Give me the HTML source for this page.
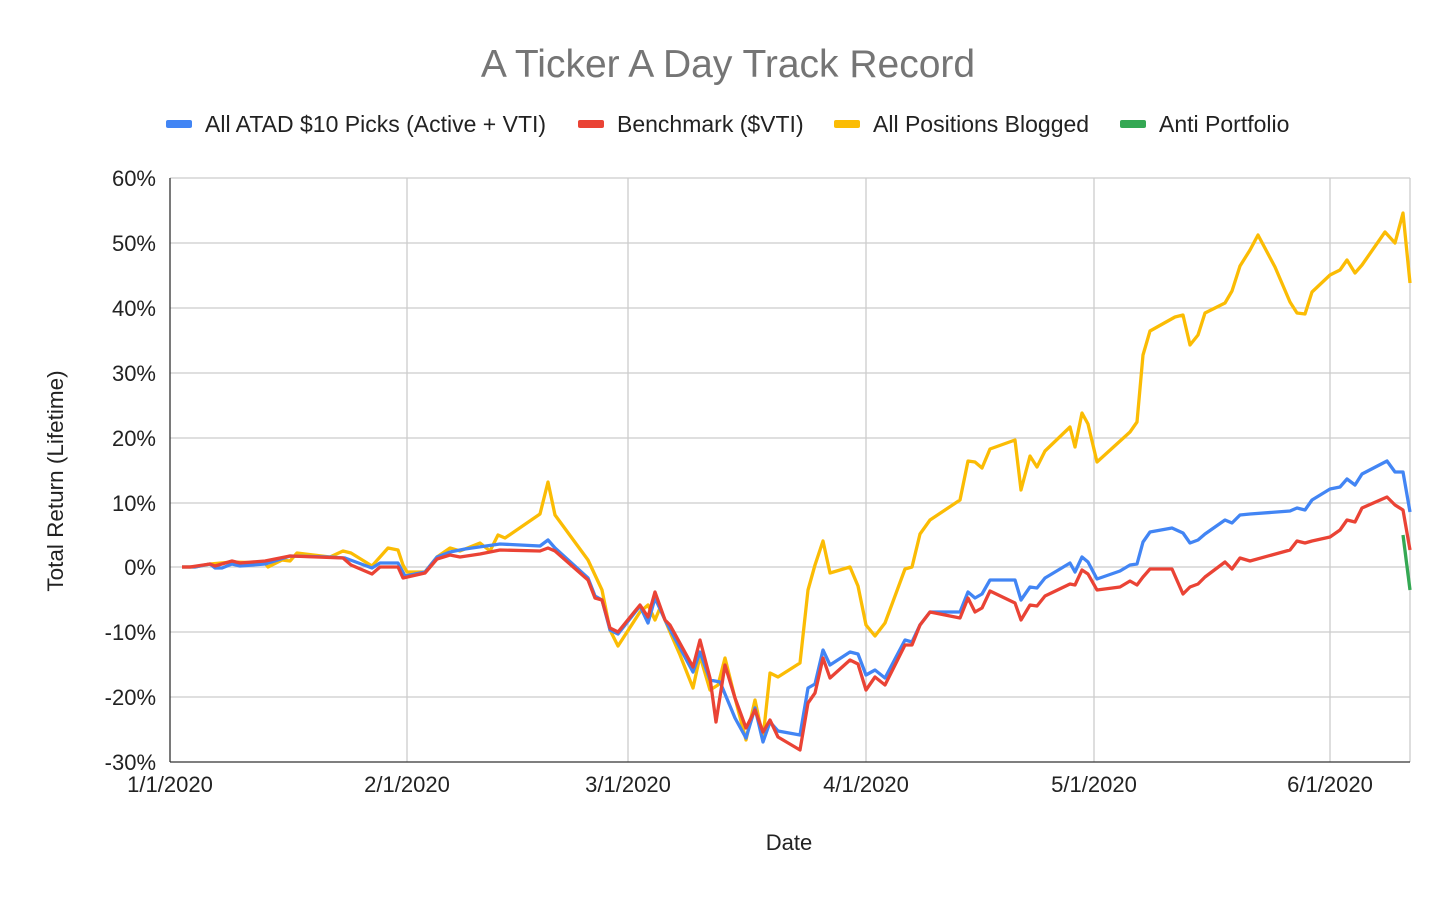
<!DOCTYPE html>
<html><head><meta charset="utf-8"><style>
html,body{margin:0;padding:0;background:#fff;}
svg{display:block;font-family:"Liberation Sans",Arial,sans-serif;}
</style></head><body>
<svg width="1456" height="899" viewBox="0 0 1456 899" xmlns="http://www.w3.org/2000/svg">
<rect width="1456" height="899" fill="#fff"/>
<text x="728" y="77" text-anchor="middle" font-size="39" fill="#757575">A Ticker A Day Track Record</text>
<g font-size="23" fill="#222">
<rect x="166" y="120" width="26" height="8" rx="2" fill="#4285f4"/><text x="205" y="132">All ATAD $10 Picks (Active + VTI)</text>
<rect x="578" y="120" width="26" height="8" rx="2" fill="#ea4335"/><text x="617" y="132">Benchmark ($VTI)</text>
<rect x="834" y="120" width="26" height="8" rx="2" fill="#fbbc04"/><text x="873" y="132">All Positions Blogged</text>
<rect x="1120" y="120" width="26" height="8" rx="2" fill="#34a853"/><text x="1159" y="132">Anti Portfolio</text>
</g>
<g stroke="#cccccc" stroke-width="1.3">
<line x1="170" y1="178" x2="1410" y2="178"/><line x1="170" y1="243" x2="1410" y2="243"/><line x1="170" y1="308" x2="1410" y2="308"/><line x1="170" y1="373" x2="1410" y2="373"/><line x1="170" y1="438" x2="1410" y2="438"/><line x1="170" y1="503" x2="1410" y2="503"/><line x1="170" y1="567" x2="1410" y2="567"/><line x1="170" y1="632" x2="1410" y2="632"/><line x1="170" y1="697" x2="1410" y2="697"/>
<line x1="407" y1="178" x2="407" y2="762"/><line x1="628" y1="178" x2="628" y2="762"/><line x1="866" y1="178" x2="866" y2="762"/><line x1="1094" y1="178" x2="1094" y2="762"/><line x1="1330" y1="178" x2="1330" y2="762"/><line x1="1410" y1="178" x2="1410" y2="762"/>
</g>
<line x1="170" y1="178" x2="170" y2="762" stroke="#333" stroke-width="1.3"/>
<line x1="170" y1="762" x2="1410" y2="762" stroke="#333" stroke-width="1.3"/>
<g font-size="22" fill="#222" text-anchor="end">
<text x="156" y="186">60%</text><text x="156" y="251">50%</text><text x="156" y="316">40%</text><text x="156" y="381">30%</text><text x="156" y="446">20%</text><text x="156" y="511">10%</text><text x="156" y="575">0%</text><text x="156" y="640">-10%</text><text x="156" y="705">-20%</text><text x="156" y="770">-30%</text>
</g>
<g font-size="22" fill="#222" text-anchor="middle">
<text x="170" y="792">1/1/2020</text><text x="407" y="792">2/1/2020</text><text x="628" y="792">3/1/2020</text><text x="866" y="792">4/1/2020</text><text x="1094" y="792">5/1/2020</text><text x="1330" y="792">6/1/2020</text>
<text x="789" y="850">Date</text>
</g>
<text transform="translate(63,481) rotate(-90)" font-size="22.5" fill="#222" text-anchor="middle">Total Return (Lifetime)</text>
<g fill="none" stroke-width="3.3" stroke-linejoin="round">
<polyline stroke="#fbbc04" points="182,567 195,567 210,564 232,562 265,563 268,567 282,560 290,561 297,553 330,557 343,551 351,553 372,566 388,548 398,550 403,565 407,572 425,572 437,557 450,548 460,551 480,543 490,551 498,535 505,538 540,514 548,482 555,515 588,560 602,590 610,630 618,646 640,612 648,605 655,620 660,608 670,632 680,655 693,688 700,656 710,690 718,685 725,658 735,698 746,740 755,700 763,738 770,673 778,677 800,663 808,590 815,565 823,541 830,573 850,567 858,586 866,625 875,636 885,623 905,569 912,567 920,534 930,520 960,500 968,461 975,462 982,468 990,449 1015,440 1021,490 1030,456 1037,467 1045,451 1070,427 1075,447 1082,413 1088,424 1097,462 1130,432 1137,422 1143,355 1150,331 1175,317 1183,315 1190,345 1198,335 1205,313 1225,303 1232,291 1240,266 1250,250 1258,235 1275,267 1290,302 1297,313 1305,314 1312,292 1330,275 1340,270 1347,260 1355,273 1362,265 1385,232 1395,243 1403,213 1410,283"/>
<polyline stroke="#4285f4" points="182,567 195,567 210,564 215,568 222,568 232,564 240,566 265,564 290,556 330,557 345,558 372,568 380,563 398,563 405,576 425,572 437,557 450,552 465,549 500,544 540,546 548,540 555,548 588,578 595,596 602,600 610,630 618,634 640,606 648,623 655,598 665,620 680,648 693,672 700,652 710,680 720,682 735,718 746,738 755,708 763,742 770,722 778,731 800,735 808,688 815,684 823,650 830,665 850,652 858,654 866,675 875,670 885,678 905,640 912,642 920,625 930,612 960,612 968,592 975,598 982,594 990,580 1015,580 1021,600 1030,587 1037,588 1045,578 1070,563 1075,572 1082,557 1088,562 1097,579 1120,571 1130,565 1137,564 1143,542 1150,532 1172,528 1183,533 1190,543 1198,540 1205,534 1225,520 1232,523 1240,515 1250,514 1290,511 1297,508 1305,510 1312,500 1330,489 1340,487 1347,479 1355,485 1362,474 1387,461 1395,472 1403,472 1410,512"/>
<polyline stroke="#ea4335" points="182,567 190,567 210,564 215,566 232,561 240,563 265,561 290,556 343,558 351,565 372,574 380,567 398,567 403,578 425,573 437,559 450,555 460,557 480,554 500,550 540,551 548,548 555,551 588,580 595,598 602,600 610,628 618,632 640,605 648,617 655,592 665,620 670,625 693,667 700,640 710,678 716,722 725,665 735,698 746,728 755,710 763,732 770,720 778,737 800,750 808,703 815,693 823,658 830,678 850,660 858,664 866,690 875,677 885,685 905,645 912,645 920,625 930,612 960,618 968,598 975,612 982,608 990,591 1015,603 1021,620 1030,605 1037,606 1045,596 1070,584 1075,585 1082,570 1088,574 1097,590 1120,587 1130,581 1137,585 1143,577 1150,569 1172,569 1183,594 1190,587 1198,584 1205,577 1225,562 1232,569 1240,558 1250,561 1290,550 1297,541 1305,543 1312,541 1330,537 1340,530 1347,520 1355,522 1362,508 1387,497 1395,505 1403,510 1410,550"/>
<polyline stroke="#34a853" points="1403,535 1410,590"/>
</g>
</svg>
</body></html>
